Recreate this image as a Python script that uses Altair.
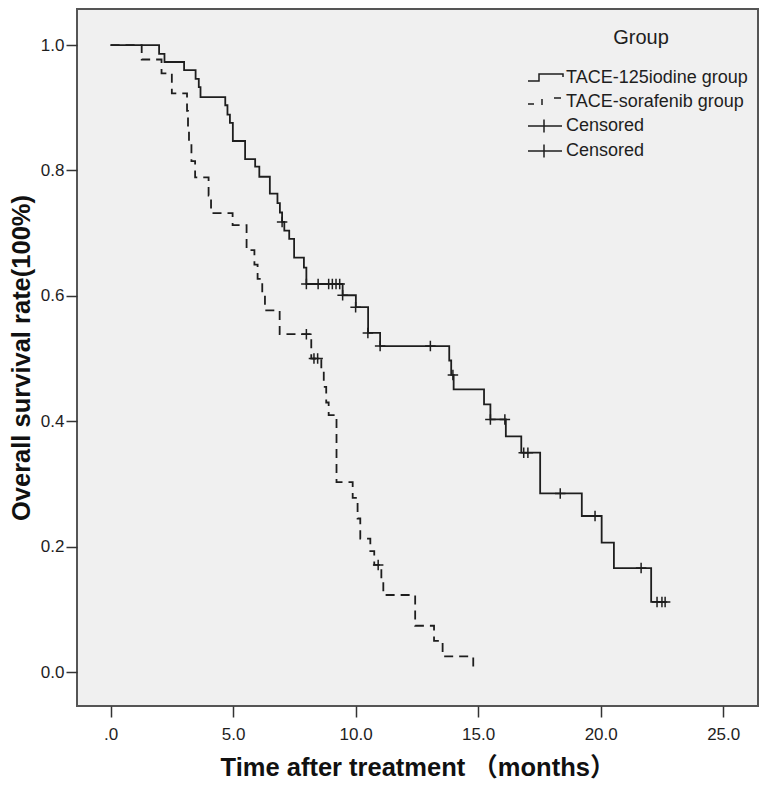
import altair as alt
import pandas as pd

GROUP_A = "TACE-125iodine group"
GROUP_B = "TACE-sorafenib group"
CENS_A = "Censored (125iodine)"
CENS_B = "Censored (sorafenib)"

# Kaplan-Meier steps (time in months, survival after the step)
iodine_time = [0, 1.98, 2.2, 3.0, 3.47, 3.6, 3.67, 4.68, 4.77, 4.87, 4.99, 5.49, 5.9, 6.07,
               6.5, 6.81, 6.91, 7.0, 7.09, 7.29, 7.49, 7.89, 7.99, 9.47, 10.01, 10.51, 11.0,
               13.82, 13.9, 14.0, 15.24, 15.5, 16.13, 16.76, 17.53, 19.23, 20.04, 20.54,
               22.06, 22.63]
iodine_surv = [1.0, 0.986, 0.973, 0.960, 0.946, 0.933, 0.917, 0.904, 0.889, 0.876, 0.847,
               0.818, 0.806, 0.790, 0.763, 0.748, 0.733, 0.718, 0.704, 0.691, 0.661, 0.645,
               0.619, 0.601, 0.582, 0.541, 0.520, 0.497, 0.474, 0.451, 0.427, 0.403, 0.376,
               0.350, 0.285, 0.249, 0.2065, 0.166, 0.112, 0.112]

sorafenib_time = [0, 1.27, 2.08, 2.5, 3.12, 3.16, 3.2, 3.3, 3.45, 4.0, 4.1, 4.98, 5.55, 5.87,
                  6.0, 6.19, 6.3, 6.9, 8.19, 8.6, 8.7, 8.8, 8.9, 9.22, 9.88, 10.08, 10.19,
                  10.6, 10.76, 11.05, 11.13, 12.43, 13.2, 13.55, 14.8]
sorafenib_surv = [1.0, 0.977, 0.955, 0.923, 0.895, 0.868, 0.847, 0.815, 0.789, 0.76, 0.732,
                  0.713, 0.673, 0.65, 0.627, 0.605, 0.577, 0.539, 0.50, 0.48, 0.455, 0.43,
                  0.41, 0.303, 0.278, 0.245, 0.213, 0.193, 0.171, 0.147, 0.123, 0.074, 0.05,
                  0.025, 0.0]

# censored observations
iodine_cens_time = [7.0, 7.99, 8.47, 8.9, 9.05, 9.2, 9.35, 9.47, 10.0, 10.5, 11.0, 13.05,
                    13.97, 15.5, 16.09, 16.86, 17.03, 18.35, 19.77, 21.65, 22.3, 22.5, 22.63]
iodine_cens_surv = [0.718, 0.619, 0.619, 0.619, 0.619, 0.619, 0.619, 0.601, 0.582, 0.541,
                    0.520, 0.520, 0.474, 0.403, 0.403, 0.350, 0.350, 0.285, 0.249, 0.166,
                    0.112, 0.112, 0.112]
sorafenib_cens_time = [7.99, 8.3, 8.45, 10.92]
sorafenib_cens_surv = [0.539, 0.50, 0.50, 0.171]

legend_keys = [GROUP_A, GROUP_B, CENS_A, CENS_B]

x_ticks = [0, 5, 10, 15, 20, 25]
y_ticks = [0.0, 0.2, 0.4, 0.6, 0.8, 1.0]

lines_df = pd.concat([
    pd.DataFrame({"t": iodine_time, "s": iodine_surv, "group": GROUP_A}),
    pd.DataFrame({"t": sorafenib_time, "s": sorafenib_surv, "group": GROUP_B}),
])
cens_df = pd.concat([
    pd.DataFrame({"t": iodine_cens_time, "s": iodine_cens_surv, "key": CENS_A}),
    pd.DataFrame({"t": sorafenib_cens_time, "s": sorafenib_cens_surv, "key": CENS_B}),
])
legend_df = pd.DataFrame({"key": legend_keys})

FONT = "Liberation Sans, Arial, Noto Sans CJK SC"
INK = "#1e1e1e"

x_enc = alt.X("t:Q",
              scale=alt.Scale(domain=[-1.37, 26.42], nice=False, zero=False),
              axis=alt.Axis(values=x_ticks,
                            labelExpr="datum.value == 0 ? '.0' : format(datum.value, '.1f')",
                            title="Time after treatment （months）",
                            tickSize=11, labelPadding=9, titlePadding=13))
y_enc = alt.Y("s:Q",
              scale=alt.Scale(domain=[-0.054, 1.0575], nice=False, zero=False),
              axis=alt.Axis(values=y_ticks, format=".1f",
                            title="Overall survival rate(100%)",
                            tickSize=11, labelPadding=2, titlePadding=6))

lines = alt.Chart(lines_df).mark_line(interpolate="step-after", color=INK, strokeWidth=1.8).encode(
    x=x_enc,
    y=y_enc,
    strokeDash=alt.StrokeDash("group:N",
                              scale=alt.Scale(domain=[GROUP_A, GROUP_B], range=[[1, 0], [9, 6]]),
                              legend=None),
)

CROSS = "M-1,0L1,0M0,-1L0,1"
points = alt.Chart(cens_df).mark_point(filled=False, color=INK, strokeWidth=1.5, size=110,
                                       opacity=1, shape=CROSS).encode(
    x="t:Q",
    y="s:Q",
)

# legend glyphs (SPSS style): solid step, dashed step, censor tick
SYM_A = "M-1.8,0.3L-0.7,0.3L-0.7,-0.4L1.7,-0.4L1.7,-0.1"
SYM_B = "M-1.8,0.2L-1.2,0.2M-0.4,-0.3L-0.4,0.3M0.8,-0.4L1.5,-0.4"
SYM_C = "M-1.8,0L1.6,0M-0.2,-0.65L-0.2,0.65"

# invisible carrier of the legend (kept inside the plot so it adds no bounds)
legend_layer = alt.Chart(legend_df).mark_point(filled=False, opacity=0, size=1).encode(
    x=alt.value(300),
    y=alt.value(300),
    shape=alt.Shape("key:N",
                    scale=alt.Scale(domain=legend_keys, range=[SYM_A, SYM_B, SYM_C, SYM_C]),
                    legend=alt.Legend(
                        title="Group", orient="none", legendX=458, legendY=19,
                        titleFontSize=20, titleFontWeight="normal", titleAnchor="middle",
                        titleColor=INK, titleFont=FONT, titlePadding=19,
                        labelFontSize=18, labelFont=FONT, labelColor=INK, labelOffset=9,
                        labelLimit=400,
                        labelExpr="indexof(datum.label, 'Censored') == 0 ? 'Censored' : datum.label",
                        symbolSize=400, symbolStrokeWidth=1.5, symbolStrokeColor=INK,
                        symbolFillColor="transparent", symbolOpacity=1,
                        rowPadding=4, padding=0,
                    )),
)

chart = alt.layer(lines, points, legend_layer).properties(
    width=681, height=697,
    autosize=alt.AutoSizeParams(type="none"),
    padding={"left": 69, "top": 1, "right": 1, "bottom": 77},
    background="white",
).configure_view(
    fill="#f0f0f0", stroke="#555555", strokeWidth=2,
).configure_axis(
    grid=False, domain=False,
    tickColor="#333333", tickWidth=1.5,
    labelFont=FONT, labelFontSize=17, labelColor=INK,
    titleFont=FONT, titleFontSize=25.5, titleFontWeight="bold", titleColor="#111111",
)

chart.save("out.html", embed_options={"renderer": "svg", "actions": False})
